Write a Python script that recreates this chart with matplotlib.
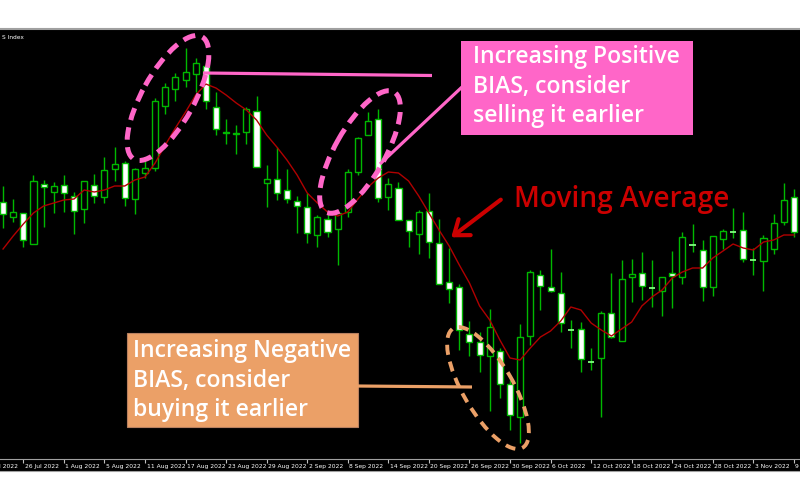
import numpy as np
import matplotlib.pyplot as plt
from matplotlib.patches import Rectangle, Ellipse, FancyArrowPatch
from matplotlib.lines import Line2D
from matplotlib.transforms import Affine2D

# daily candles, values in chart points (no price scale visible)
opens = [258.3, 243.3, 247, 216, 276, 267.7, 275, 264.3, 250.7, 275,
         263.3, 290.7, 296.7, 260.7, 286.7, 291.7, 354.3, 370.7, 380, 385.7,
         394, 352.7, 328.3, 327.3, 328.3, 349.3, 276.7, 281.3, 269.7, 259.3,
         253.3, 225, 240.7, 230.7, 248.3, 288.3, 325, 340.7, 262.7, 271.7,
         240, 225.7, 249, 216.7, 177.7, 173.3, 126, 118.3, 104, 109,
         75.7, 43.3, 124, 185, 172.7, 166.7, 130, 131, 98.5, 101.7,
         146.7, 119.3, 182.7, 187.3, 171.7, 169.3, 187.3, 183.3, 215, 210,
         173.3, 221, 228.3, 230, 200, 199, 210.7, 238.3, 263.3]
closes = [245.7, 247.7, 220, 279.3, 272.7, 274.3, 267.3, 249, 279.3, 264.3,
          290.3, 295.7, 262.3, 291, 292.3, 359.3, 372.7, 383.3, 388.3, 396.7,
          359, 330.7, 326.7, 325.7, 350.7, 292.7, 281.3, 267.3, 260.7, 254,
          226.7, 242.7, 228.3, 246.7, 288.3, 321.7, 339, 261.7, 276, 240,
          229.3, 247.7, 217.7, 175.7, 170.7, 130, 117.7, 105, 133.3, 75.7,
          45, 123.3, 187.7, 174, 169, 137, 130, 100.7, 98.5, 146.7,
          123.3, 180.7, 185.7, 174, 171.7, 183.3, 184.3, 223.3, 215, 172.7,
          224.3, 228.7, 228.3, 201.3, 200, 221.7, 237.3, 260, 227.7]
highs = [274.3, 260.7, 247, 284.7, 280, 278.3, 285, 268.3, 279.3, 285.7,
         302.7, 313.3, 299.3, 291.7, 303.3, 362.3, 376.7, 387.3, 411.7, 401.7,
         397, 367.7, 340.7, 335, 352.7, 364, 295, 313.3, 290.7, 264.3,
         266.7, 245, 248.3, 250, 290.7, 323.3, 348.3, 350.7, 281.7, 278.3,
         240, 250, 266.7, 241, 211.7, 176, 139, 128.3, 151, 111.7,
         80, 136, 190, 190, 211, 188.3, 140, 137.7, 111.7, 149.3,
         187.3, 200, 200.7, 208.3, 200, 183.3, 209, 228.3, 236, 220,
         224.3, 231, 251.7, 248.3, 211.7, 225, 246, 276.7, 270.7]
lows = [231.7, 238.3, 213.3, 216, 233.3, 246.7, 248.3, 225.7, 236.7, 257.3,
        257.3, 279.3, 254, 246, 281.7, 289, 345.7, 359, 373.3, 368.3,
        351, 325, 315.7, 305.7, 316, 292.7, 252.7, 260, 256.7, 227.3,
        217.3, 212.7, 223.3, 195, 243.3, 285, 325, 258.3, 250, 240,
        213.3, 206, 202.3, 175.7, 157.3, 110, 104, 88, 49, 61.7,
        30, 17.3, 115, 150, 168, 128.3, 111.7, 88.3, 90, 43.3,
        121.7, 119.3, 158.3, 160, 152.7, 144.3, 151.7, 176, 208.3, 159.3,
        164, 211, 221.7, 198.3, 185, 169.3, 206, 235, 223.3]
ma = [211, 224, 236, 247, 254, 257, 260, 261, 270, 268,
      270, 274, 274, 280, 283, 297, 315, 332, 348, 365,
      376, 372, 365, 357, 350, 340, 325, 313, 300, 285,
      267, 257, 248, 244, 248, 261, 273, 282, 288, 287,
      279, 264, 247, 230, 214, 195, 177, 154, 140, 120,
      102, 100, 112, 123, 129, 139, 153, 150, 137, 130,
      124, 131, 138, 154, 163, 170, 182, 188, 192, 192,
      202, 209, 216, 212, 210, 218, 220, 225, 225]

tick_pos = list(range(-2, 79, 4))
tick_labels = ['20 Jul 2022', '26 Jul 2022', '1 Aug 2022', '5 Aug 2022', '11 Aug 2022',
               '17 Aug 2022', '23 Aug 2022', '29 Aug 2022', '2 Sep 2022', '8 Sep 2022',
               '14 Sep 2022', '20 Sep 2022', '26 Sep 2022', '30 Sep 2022', '6 Oct 2022',
               '12 Oct 2022', '18 Oct 2022', '24 Oct 2022', '28 Oct 2022', '3 Nov 2022',
               '9 Nov 2022']

green = '#00b800'
pink = '#ff66c8'
orange = '#eba067'
red = '#cc0000'
font = ['Open Sans', 'DejaVu Sans']

fig = plt.figure(figsize=(8, 5), dpi=100, facecolor='white')
ax = fig.add_axes([0, 41 / 500, 1, 430 / 500])
ax.set_facecolor('black')

x = np.arange(len(opens))
ax.vlines(x, lows, highs, color=green, lw=1, zorder=1)
for i in x:
    o, c = opens[i], closes[i]
    if o == c:
        ax.hlines(o, i - 0.3, i + 0.3, color='#80ff80', lw=1.3, zorder=3)
    else:
        fc = 'white' if c < o else 'black'
        ax.add_patch(Rectangle((i - 0.3, min(o, c)), 0.6, abs(c - o),
                               fc=fc, ec=green, lw=1, zorder=2))
ax.plot(x, ma, color='#b00000', lw=1, zorder=4)

ax.set_xlim(-0.3, 78.6)
ax.set_ylim(1, 431)
ax.set_xticks([])
ax.set_yticks([])
for s in ['left', 'right', 'bottom']:
    ax.spines[s].set_visible(False)
ax.spines['top'].set_color('#a0a0a0')
ax.spines['top'].set_linewidth(1.5)
ax.text(0.002, 0.985, 'S Index', transform=ax.transAxes, color='white',
        fontsize=4.2, va='top', ha='left')

# date strip
ax2 = fig.add_axes([0, 29 / 500, 1, 12 / 500])
ax2.set_facecolor('black')
ax2.set_xlim(-0.3, 78.6)
ax2.set_ylim(0, 1)
ax2.set_xticks([])
ax2.set_yticks([])
for s in ['left', 'right']:
    ax2.spines[s].set_visible(False)
for s in ['top', 'bottom']:
    ax2.spines[s].set_color('#a0a0a0')
ax2.vlines(tick_pos, 0.7, 1, color='#c0c0c0', lw=0.8)
for p, lab in zip(tick_pos, tick_labels):
    ax2.text(p + 0.15, 0.4, lab, color='white', fontsize=4.3, va='center',
             ha='left', clip_on=True)

# annotations in pixel coordinates (y down)
px = Affine2D().scale(1 / 800, -1 / 500).translate(0, 1) + fig.transFigure

fig.add_artist(Ellipse((168, 98), 140, 52, angle=-61, transform=px, fill=False,
                       ec=pink, lw=3.6, ls=(0, (2.5, 1.5))))
fig.add_artist(Ellipse((360, 152), 138, 50, angle=-60.5, transform=px, fill=False,
                       ec=pink, lw=3.6, ls=(0, (2.5, 1.5))))
fig.add_artist(Line2D([203, 432], [73, 75.5], transform=px, color=pink, lw=2.3,
                      solid_capstyle='butt'))
fig.add_artist(Line2D([380, 462], [164, 87], transform=px, color=pink, lw=2.3,
                      solid_capstyle='butt'))
fig.add_artist(Rectangle((461, 41), 232, 94, transform=px, fc=pink, ec='none'))
for txt, yb in zip(['Increasing Positive', 'BIAS, consider', 'selling it earlier'],
                   [63, 93, 122]):
    fig.text(473, yb, txt, transform=px, color='white', fontsize=16.6,
             family=font, weight='semibold', va='baseline', ha='left')

fig.add_artist(Ellipse((488, 388), 138, 50, angle=59.8, transform=px, fill=False,
                       ec=orange, lw=2.8, ls=(0, (2.6, 1.8))))
fig.add_artist(Line2D([356, 472], [386, 387], transform=px, color=orange, lw=2.3,
                      solid_capstyle='butt'))
fig.add_artist(Rectangle((127, 333), 231, 94, transform=px, fc=orange, ec='#b88060', lw=0.8))
for txt, yb in zip(['Increasing Negative', 'BIAS, consider', 'buying it earlier'],
                   [357, 387, 416]):
    fig.text(133, yb, txt, transform=px, color='white', fontsize=16.6,
             family=font, weight='semibold', va='baseline', ha='left')

fig.add_artist(FancyArrowPatch((503, 198), (449, 239), transform=px,
                               arrowstyle='->,head_length=0.8,head_width=0.6',
                               mutation_scale=12, lw=3, color=red))
fig.text(514, 207, 'Moving Average', transform=px, color=red, fontsize=20.2,
         family=font, weight='semibold', va='baseline', ha='left')

fig.savefig('out.png', dpi=100, facecolor='white')
